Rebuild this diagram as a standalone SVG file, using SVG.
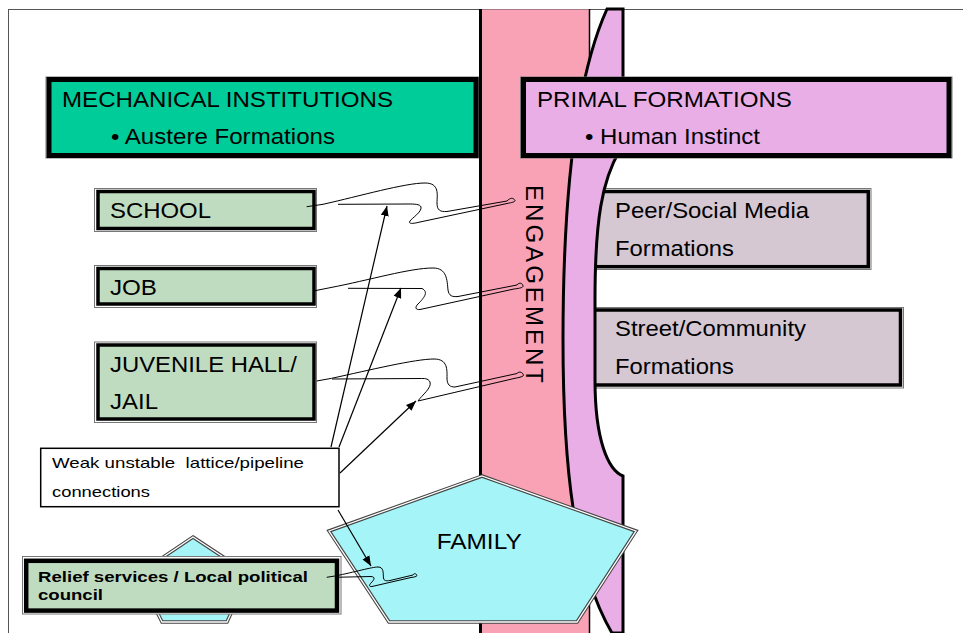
<svg xmlns="http://www.w3.org/2000/svg" width="963" height="633" viewBox="0 0 963 633">
<style>
text{font-family:"Liberation Sans",Arial,Helvetica,sans-serif;fill:#000}
.t22{font-size:22px}
.frame{stroke:#555;stroke-width:1;fill:none}
.gout{fill:#fff;stroke:#777;stroke-width:1}
.gin{fill:#C0DCC0;stroke:#000;stroke-width:3.5}
.pin{fill:#D5C8D3;stroke:#000;stroke-width:3.5}
.pent1{stroke:#444;stroke-width:3.5;fill:#A5F4F8}
.pent2{stroke:#fff;stroke-width:1.3;fill:none}
.sq{fill:none;stroke:#000;stroke-width:1;stroke-linejoin:round}
.ar{fill:none;stroke:#000;stroke-width:1.2}
</style>
<defs>
<marker id="ah" markerUnits="userSpaceOnUse" markerWidth="12" markerHeight="10" refX="10" refY="5" orient="auto">
<path d="M0,1 L10,5 L0,9 Z" fill="#000"/>
</marker>
</defs>
<rect x="0" y="0" width="963" height="633" fill="#fff"/>
<g id="frame">
<line class="frame" x1="8" y1="9.5" x2="963" y2="9.5"/>
<line class="frame" x1="8.5" y1="9" x2="8.5" y2="633"/>
</g>
<g id="engagement-strip">
<rect x="480.5" y="9.5" width="109" height="630" fill="#F9A2B6"/>
<line x1="480.5" y1="9" x2="480.5" y2="633" stroke="#000" stroke-width="3"/>
<line x1="589.5" y1="9" x2="589.5" y2="633" stroke="#000" stroke-width="1.5"/>
</g>
<g id="peer">
<rect class="gout" x="588" y="188.5" width="283" height="81"/>
<rect class="pin" x="590" y="191.5" width="278.3" height="75.2"/>
<text class="t22" x="615" y="218.3" textLength="194" lengthAdjust="spacingAndGlyphs">Peer/Social Media</text>
<text class="t22" x="615" y="256" textLength="119" lengthAdjust="spacingAndGlyphs">Formations</text>
</g>
<g id="street">
<rect class="gout" x="588" y="307.5" width="315.5" height="80.5"/>
<rect class="pin" x="590" y="310" width="310.5" height="75"/>
<text class="t22" x="615" y="336" textLength="191" lengthAdjust="spacingAndGlyphs">Street/Community</text>
<text class="t22" x="615" y="374" textLength="119" lengthAdjust="spacingAndGlyphs">Formations</text>
</g>
<g id="primal-crescent">
<path d="M607,9 C575,80 563,200 563,340 C563,470 575,570 612,633 L623,633 L623,476 C608,470 595,440 595,380 L595,300 C595,220 602,180 620,150 L623,140 L623,9 Z" fill="#EAAEE7" stroke="#000" stroke-width="3"/>
</g>
<g id="mechanical">
<rect class="gout" x="46" y="77" width="432.5" height="81"/>
<rect x="49" y="79.5" width="427" height="76" fill="#00CC99" stroke="#000" stroke-width="5"/>
<text class="t22" x="62" y="107" textLength="331" lengthAdjust="spacingAndGlyphs">MECHANICAL INSTITUTIONS</text>
<text class="t22" x="111" y="144" textLength="224" lengthAdjust="spacingAndGlyphs">• Austere Formations</text>
</g>
<g id="primal">
<rect class="gout" x="520.5" y="77" width="431.5" height="81"/>
<rect x="523.5" y="79.5" width="425.5" height="76" fill="#EAAEE7" stroke="#000" stroke-width="5"/>
<text class="t22" x="537" y="107" textLength="255" lengthAdjust="spacingAndGlyphs">PRIMAL FORMATIONS</text>
<text class="t22" x="585" y="144" textLength="175" lengthAdjust="spacingAndGlyphs">• Human Instinct</text>
</g>
<g id="school">
<rect class="gout" x="94.5" y="188.5" width="222" height="43"/>
<rect class="gin" x="98" y="191.5" width="216" height="37"/>
<text class="t22" x="110" y="218" textLength="101" lengthAdjust="spacingAndGlyphs">SCHOOL</text>
</g>
<g id="job">
<rect class="gout" x="94.5" y="265.5" width="222" height="42"/>
<rect class="gin" x="98" y="268.5" width="216" height="35.5"/>
<text class="t22" x="110" y="295" textLength="47" lengthAdjust="spacingAndGlyphs">JOB</text>
</g>
<g id="jail">
<rect class="gout" x="94.5" y="342" width="222" height="80.5"/>
<rect class="gin" x="98" y="345" width="216" height="74"/>
<text class="t22" x="110" y="371.5" textLength="187" lengthAdjust="spacingAndGlyphs">JUVENILE HALL/</text>
<text class="t22" x="110" y="409" textLength="48" lengthAdjust="spacingAndGlyphs">JAIL</text>
</g>
<g id="engagement-label">
<text transform="translate(525.5,185) rotate(90)" x="0" y="0" style="font-size:24px" textLength="198" lengthAdjust="spacing">ENGAGEMENT</text>
</g>
<g id="weak">
<rect x="40.7" y="448.3" width="298.3" height="58.4" fill="#fff" stroke="#000" stroke-width="1.5"/>
<text x="52" y="468" style="font-size:15px;white-space:pre" xml:space="preserve" textLength="252" lengthAdjust="spacingAndGlyphs">Weak unstable  lattice/pipeline</text>
<text x="52" y="497" style="font-size:15px" textLength="98" lengthAdjust="spacingAndGlyphs">connections</text>
</g>
<g id="relief-pentagon">
<polygon class="pent1" points="193,537 249,574 227,622 162,622 138,574"/>
<polygon class="pent2" points="193,537 249,574 227,622 162,622 138,574"/>
</g>
<g id="relief">
<rect class="gout" x="22.5" y="556.5" width="318.5" height="57.5"/>
<rect x="26.2" y="560.8" width="310.8" height="49.8" fill="#C0DCC0" stroke="#000" stroke-width="4.5"/>
<text x="38" y="581.7" style="font-size:15.5px;font-weight:bold" textLength="270" lengthAdjust="spacingAndGlyphs">Relief services / Local political</text>
<text x="38" y="600" style="font-size:15.5px;font-weight:bold" textLength="65" lengthAdjust="spacingAndGlyphs">council</text>
</g>
<g id="family">
<polygon class="pent1" points="482,476 636,531 577,622 389,622 329,531"/>
<polygon class="pent2" points="482,476 636,531 577,622 389,622 329,531"/>
<text class="t22" x="436.7" y="549" textLength="85" lengthAdjust="spacingAndGlyphs">FAMILY</text>
</g>
<g id="connectors">
<path class="sq" d="M306.7,206.7 L323,204.3 C360,196 405,183 425,183 C440,183 437,195 437,203 C437,210 440,212 447,211.5 L507,201 C510,198 513,197 515,200.5 C515,202 512,202.5 507,203.5 L420,222 C412,224 408,224 410,221 C412,218 422,212 421,207 C420,204 414,204 408,204 L338,204.3"/>
<path class="sq" d="M315,290.7 L330,287.7 C370,280 410,268 433,268 C447,268 447,280 448,290 C449,296 452,297 458,296.5 L517,285 C519,282 523,283 523,286.5 C522,288 518,288.5 514,289 L420,309.5 C415,310 415,307 418,304 C424,298 429,292 422,288.5 L348,288.3"/>
<path class="sq" d="M316.7,381 L331.7,378.3 C370,370 415,359 434,359 C448,359 447,370 447,378 C447,385 450,387 455,387 L517,373.5 C519,371 523,372 523.5,375.5 C522,377 519,377.5 514,378.5 L418,401 C422,395 432,388 430,382 C428,378 424,378.5 420,378.5 L332,379"/>
<path class="sq" d="M326.7,577.3 L335,576 C355,572 372,567 378,567 C384,567 383,573 383.5,578 C384,581 386,581 390,580.5 L413,575 C414,573 416.5,573.5 417,575.5 C416,577 414,577 411,577.5 L372,586.5 C369,587 369,585 371,583 C374,580 376,577 371,576.5 L335,577.3"/>
<line class="ar" x1="331" y1="447" x2="387" y2="206" marker-end="url(#ah)"/>
<line class="ar" x1="339" y1="447" x2="401" y2="288" marker-end="url(#ah)"/>
<line class="ar" x1="340" y1="473" x2="416" y2="401" marker-end="url(#ah)"/>
<line class="ar" x1="338" y1="510" x2="371" y2="566" marker-end="url(#ah)"/>
</g>
</svg>
